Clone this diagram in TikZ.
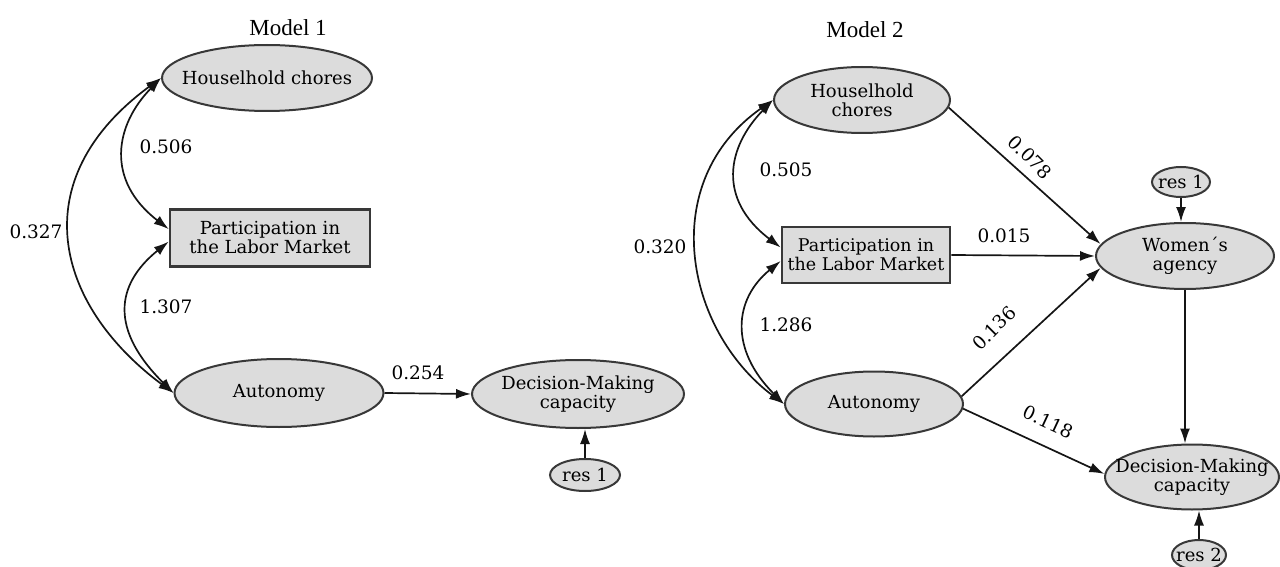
\documentclass[tikz,border=0pt]{standalone}
\usepackage{fontspec}
\setmainfont{DejaVu Serif}
\newfontfamily\titlefont{Liberation Serif}
\usetikzlibrary{shapes.geometric,arrows.meta}
\definecolor{nodefill}{HTML}{DCDCDC}
\definecolor{nodeline}{HTML}{383838}
\definecolor{linec}{HTML}{151515}
\begin{document}
\begin{tikzpicture}[x=1pt,y=-1pt,
  latent/.style={ellipse, draw=nodeline, fill=nodefill, line width=2pt, inner xsep=-20pt, inner ysep=0pt, align=center, font=\fontsize{18}{19}\selectfont},
  obsbox/.style={rectangle, draw=nodeline, fill=nodefill, line width=2.5pt, inner sep=0pt, align=center, font=\fontsize{18}{19}\selectfont},
  resid/.style={ellipse, draw=nodeline, fill=nodefill, line width=2pt, inner xsep=-8pt, inner ysep=0pt, font=\fontsize{18}{19}\selectfont},
  arr/.style={-{Latex[length=15pt,width=10pt]}, draw=linec, line width=1.7pt},
  dbl/.style={{Latex[length=15pt,width=10pt]}-{Latex[length=15pt,width=10pt]}, draw=linec, line width=1.7pt},
  lbl/.style={inner sep=1pt, font=\fontsize{18.5}{19}\selectfont},
  ttl/.style={inner sep=0pt, font=\titlefont\fontsize{23}{25}\selectfont}]
\useasboundingbox (0,0) rectangle (1280,567);
% ---------------- Model 1 ----------------
\node[ttl] (t1) at (288,28) {Model 1};
\node[latent, minimum width=210pt, minimum height=66pt] (hcA) at (267,78) {Houselhold chores};
\node[obsbox, minimum width=200pt, minimum height=57pt] (pA) at (270,238) {Participation in\\the Labor Market};
\node[latent, minimum width=209pt, minimum height=68pt] (autA) at (279,393) {Autonomy};
\node[latent, minimum width=212pt, minimum height=68pt] (dmA) at (578,394) {Decision-Making\\capacity};
\node[resid, minimum width=70pt, minimum height=32pt] (rA) at (585,475) {res 1};
\draw[dbl] (autA.west) .. controls (55,305) and (22,180) .. (hcA.west);
\draw[dbl] (hcA.west) .. controls (115,125) and (105,180) .. (pA.175);
\draw[dbl] (pA.182) .. controls (115,285) and (110,330) .. (autA.west);
\draw[arr] (autA.east) -- (dmA.west);
\draw[arr] (rA.north) -- (rA.north |- dmA.south);
\node[lbl] (l327) at (36,232) {0.327};
\node[lbl] (l506) at (166,147) {0.506};
\node[lbl] (l1307) at (166,307) {1.307};
\node[lbl] (l254) at (418,373) {0.254};
% ---------------- Model 2 ----------------
\node[ttl] (t2) at (865,30) {Model 2};
\node[latent, minimum width=176pt, minimum height=66pt] (hcB) at (862,100) {Houselhold\\chores};
\node[obsbox, minimum width=168pt, minimum height=56pt, font=\fontsize{17.5}{19}\selectfont] (pB) at (866,255) {Participation in\\the Labor Market};
\node[latent, minimum width=178pt, minimum height=65pt] (autB) at (874,404) {Autonomy};
\node[latent, minimum width=178pt, minimum height=66pt] (wB) at (1185,256) {Women´s\\agency};
\node[latent, minimum width=174pt, minimum height=65pt] (dmB) at (1192,477) {Decision-Making\\capacity};
\node[resid, minimum width=58pt, minimum height=30pt] (r1B) at (1181,182) {res 1};
\node[resid, minimum width=54pt, minimum height=30pt] (r2B) at (1199,555) {res 2};
\draw[dbl] (autB.west) .. controls (685,330) and (656,182) .. (hcB.west);
\draw[dbl] (hcB.west) .. controls (727,147) and (717,199) .. (pB.175);
\draw[dbl] (pB.184) .. controls (734,299) and (729,349) .. (autB.west);
\draw[arr] (hcB.-5) -- (wB.172);
\draw[arr] (pB.east) -- (wB.west);
\draw[arr] (autB.5) -- (wB.188);
\draw[arr] (autB.-3) -- (dmB.178);
\draw[arr] (wB.south) -- (wB.south |- dmB.north);
\draw[arr] (r1B.south) -- (r1B.south |- wB.north);
\draw[arr] (r2B.north) -- (r2B.north |- dmB.south);
\node[lbl] (l320) at (660,247) {0.320};
\node[lbl] (l505) at (786,170) {0.505};
\node[lbl] (l1286) at (786,325) {1.286};
\node[lbl, rotate=-45] (l078) at (1030,157) {0.078};
\node[lbl] (l015) at (1004,236) {0.015};
\node[lbl, rotate=45] (l136) at (994,328) {0.136};
\node[lbl, rotate=-25] (l118) at (1048,422) {0.118};
\end{tikzpicture}
\end{document}
